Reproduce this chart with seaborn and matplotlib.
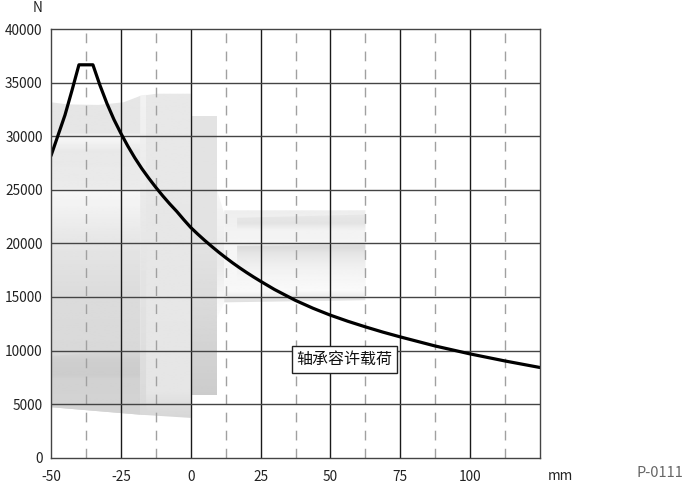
# Allowable bearing load curve over a faint drawing of the gearbox
import numpy as np
import pandas as pd
import matplotlib.pyplot as plt
from matplotlib.patches import Polygon
import seaborn as sns

# Values
position_mm = [-50, -47.5, -45, -42.5, -40, -35, -32.5, -30, -27.5, -25, -22.5, -20, -17.5, -15, -12.5, -10, -7.5, -5, -2.5,
               0, 2.5, 5, 7.5, 10, 12.5, 15, 17.5, 20, 22.5, 25, 30, 37.5, 43.75, 50, 56.25, 62.5, 68.75, 75, 87.5, 100, 112.5, 125]
load_n = [28200, 30100, 32000, 34300, 36700, 36700, 34800, 33100, 31600, 30300, 29100, 28000, 27000, 26100, 25250, 24450, 23700, 23000, 22230,
          21500, 20880, 20290, 19730, 19190, 18680, 18190, 17730, 17290, 16870, 16470, 15700, 14680, 13950, 13300, 12730, 12210, 11720, 11270, 10420, 9680, 9020, 8410]

x_major = [-50, -25, 0, 25, 50, 75, 100, 125]
x_labels = ["-50", "-25", "0", "25", "50", "75", "100", ""]
x_dashed = [-37.5, -12.5, 12.5, 37.5, 62.5, 87.5, 112.5]
y_major = [0, 5000, 10000, 15000, 20000, 25000, 30000, 35000, 40000]
curve_label = "轴承容许载荷"

# Background shapes, outlines in data units
body = [(-50, 33200), (-44, 33000), (-33, 32950), (-24, 33200), (-18, 33800), (-18, 4000), (-50, 4700)]
base = [(-50, 9500), (-18, 10000), (-18, 4000), (-50, 4700)]
flange = [(-18, 33800), (-12, 34000), (0, 34000), (0, 3700), (-18, 4000)]
flange_edge = [(-18, 33800), (-16, 33900), (-16, 4000), (-18, 4000)]
step = [(0, 31900), (9.4, 31900), (9.4, 5800), (0, 5800)]
neck = [(9.4, 25000), (12, 22800), (12, 14500), (9.4, 13000)]
shaft = [(12, 23100), (62.5, 23100), (62.5, 14700), (12, 14500)]
groove_a = [(16.6, 22400), (62.5, 22700), (62.5, 21300), (16.6, 21400)]
groove_b = [(16.6, 19800), (62.5, 19900), (62.5, 15600), (35, 15500), (16.6, 16500)]

sns.set_style("white")
plt.rcParams['font.family'] = ['Noto Sans CJK SC', 'DejaVu Sans']

fig = plt.figure(figsize=(6.85, 4.87), dpi=100)
ax = fig.add_axes([51 / 685, 1 - 457.5 / 487, 489 / 685, 428 / 487])


def shaded(outline, stops, zorder=1):
    # Vertical grey gradient clipped to an outline
    levels = np.linspace(0, 40000, 400)
    grey = np.interp(levels, [s[0] for s in stops], [s[1] for s in stops])
    img = ax.imshow(grey[:, None], cmap="gray", vmin=0, vmax=1, origin="lower", aspect="auto",
                    extent=(-50, 125, 0, 40000), zorder=zorder)
    patch = Polygon(outline, closed=True, transform=ax.transData, fc="none", ec="none")
    ax.add_patch(patch)
    img.set_clip_path(patch)


body_stops = [(4000, .84), (10000, .85), (15000, .86), (20000, .90), (24900, .97), (25100, .92),
              (28500, .91), (29800, .97), (30300, .90), (33200, .90)]
shaded(body, body_stops)
shaded(base, [(4000, .83), (7300, .82), (7600, .80), (9000, .81), (10000, .85)], zorder=1.1)
shaded(flange, [(3700, .84), (6000, .90), (34000, .91)])
shaded(flange_edge, [(4000, .85), (34000, .95)], zorder=1.1)
shaded(step, [(5800, .80), (12000, .84), (20000, .89), (31900, .89)])
shaded(neck, [(13000, .99), (18000, .92), (25000, .97)])
shaded(shaft, [(14500, .88), (15400, .97), (20000, .96), (23100, .93)])
shaded(groove_a, [(21300, .94), (21800, .89), (22700, .91)], zorder=1.1)
shaded(groove_b, [(15500, .98), (17500, .95), (19000, .90), (19500, .86), (19900, .87)], zorder=1.1)

for x in x_dashed:
    ax.axvline(x, color="#a0a0a0", lw=1, dashes=(7, 6), zorder=2)
for x in x_major[1:-1]:
    ax.axvline(x, color="#1a1a1a", lw=1, zorder=2)
for y in y_major[1:-1]:
    ax.axhline(y, color="#444444", lw=1, zorder=2)

curve = pd.DataFrame({"position": position_mm, "load": load_n})
sns.lineplot(data=curve, x="position", y="load", color="black", lw=2.3, ax=ax, zorder=3, errorbar=None)

ax.set_xlim(-50, 125)
ax.set_ylim(0, 40000)
ax.set_xticks(x_major, x_labels)
ax.set_yticks(y_major, [str(v) for v in y_major])
ax.set_xlabel("")
ax.set_ylabel("")
ax.tick_params(axis="both", length=0, labelsize=9.8, colors="#222222")
ax.tick_params(axis="x", pad=9)
ax.tick_params(axis="y", pad=6)
for spine in ax.spines.values():
    spine.set_color("#444444")
    spine.set_linewidth(1)
    spine.set_zorder(4)

ax.text(55, 9160, curve_label, fontsize=11.5, ha="center", va="center", color="#111111", zorder=5,
        bbox=dict(boxstyle="square,pad=0.3", fc="white", ec="#222222", lw=1))

fig.text(38 / 685, 1 - 8 / 487, "N", fontsize=9.8, ha="center", va="center", color="#222222")
fig.text(560 / 685, 1 - 476 / 487, "mm", fontsize=9.8, ha="center", va="center", color="#222222")
fig.text(660 / 685, 1 - 473 / 487, "P-0111", fontsize=10.5, ha="center", va="center", color="#666666")

fig.savefig("out.png", dpi=100)
